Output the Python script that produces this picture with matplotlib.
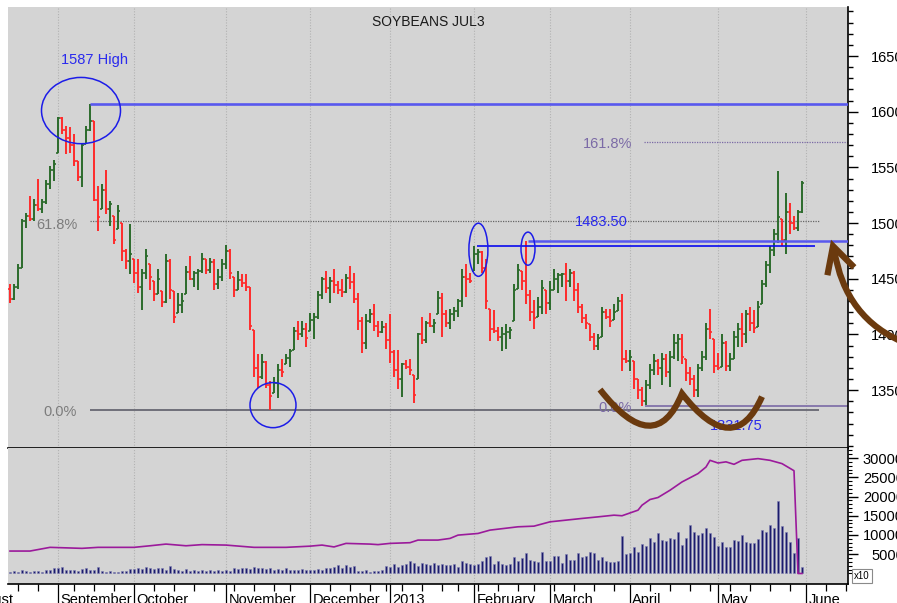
import numpy as np
import pandas as pd
import matplotlib
matplotlib.use("Agg")
import matplotlib.pyplot as plt
import matplotlib.transforms as mtransforms
from matplotlib.patches import Ellipse, PathPatch
from matplotlib.path import Path

plt.rcParams["font.family"] = ["Liberation Sans", "DejaVu Sans"]

# trading calendar (CBOT holidays in the window)
HOLIDAYS = ["2012-09-03", "2012-11-22", "2012-12-25", "2013-01-01",
            "2013-01-21", "2013-02-18", "2013-03-29", "2013-05-27"]
FIRST_BAR = "2012-08-16"
MONTH_LABELS = ["August", "September", "October", "November", "December", "2013",
                "February", "March", "April", "May", "June"]

# daily bars, Aug 16 2012 .. May 31 2013
high = [1445, 1445, 1463, 1504, 1509, 1524, 1522, 1540, 1522, 1539,
        1551, 1557, 1595, 1595, 1587, 1586, 1580, 1556, 1571, 1587,
        1607, 1592, 1533, 1535, 1548, 1520, 1506, 1516, 1500, 1477,
        1499, 1468, 1468, 1459, 1477, 1463, 1448, 1459, 1439, 1472,
        1468, 1439, 1437, 1437, 1461, 1470, 1457, 1459, 1473, 1468,
        1469, 1468, 1459, 1468, 1480, 1477, 1452, 1457, 1454, 1454,
        1443, 1404, 1382, 1382, 1376, 1358, 1362, 1373, 1378, 1382,
        1387, 1407, 1412, 1412, 1410, 1419, 1419, 1439, 1452, 1457,
        1452, 1459, 1448, 1450, 1454, 1461, 1455, 1437, 1416, 1418,
        1423, 1427, 1412, 1412, 1410, 1418, 1386, 1386, 1374, 1377,
        1378, 1364, 1401, 1416, 1412, 1419, 1414, 1439, 1437, 1422,
        1423, 1425, 1432, 1459, 1463, 1455, 1479.5, 1477, 1475, 1468,
        1423, 1422, 1407, 1407, 1409, 1407, 1445, 1463, 1457, 1483.5,
        1440, 1431, 1434, 1449, 1440, 1448, 1459, 1455, 1455, 1464,
        1459, 1457, 1446, 1427, 1418, 1409, 1401, 1400, 1425, 1423,
        1423, 1427, 1434, 1436, 1386, 1386, 1376, 1360, 1353, 1359,
        1373, 1382, 1378, 1383, 1382, 1385, 1400, 1400, 1400, 1378,
        1371, 1364, 1373, 1385, 1410, 1423, 1396, 1383, 1400, 1394,
        1383, 1403, 1410, 1419, 1422, 1425, 1422, 1430, 1449, 1466,
        1479, 1495, 1547, 1504, 1527, 1518, 1506, 1512, 1538]
low = [1428, 1431, 1441, 1460, 1496, 1502, 1502, 1511, 1509, 1517,
       1531, 1538, 1563, 1580, 1562, 1563, 1551, 1538, 1532, 1571,
       1583, 1520, 1493, 1513, 1508, 1497, 1481, 1495, 1466, 1459,
       1454, 1446, 1437, 1422, 1450, 1440, 1430, 1436, 1425, 1428,
       1432, 1410, 1419, 1419, 1436, 1449, 1443, 1440, 1455, 1454,
       1455, 1440, 1441, 1448, 1459, 1450, 1434, 1440, 1443, 1439,
       1404, 1362, 1352, 1360, 1352, 1331.75, 1347, 1343, 1362, 1373,
       1371, 1386, 1395, 1398, 1389, 1403, 1396, 1414, 1432, 1437,
       1428, 1437, 1436, 1434, 1437, 1441, 1428, 1404, 1383, 1387,
       1410, 1403, 1398, 1401, 1387, 1374, 1362, 1351, 1344, 1369,
       1364, 1338, 1360, 1391, 1392, 1407, 1401, 1418, 1398, 1407,
       1405, 1412, 1416, 1425, 1434, 1446, 1457, 1463, 1455, 1423,
       1394, 1401, 1394, 1385, 1387, 1396, 1412, 1441, 1440, 1427,
       1412, 1405, 1416, 1418, 1418, 1422, 1440, 1437, 1443, 1430,
       1443, 1430, 1419, 1410, 1405, 1394, 1386, 1386, 1398, 1414,
       1407, 1413, 1421, 1367, 1374, 1367, 1351, 1342, 1336, 1337,
       1351, 1364, 1364, 1355, 1362, 1353, 1378, 1376, 1373, 1358,
       1355, 1344, 1344, 1367, 1377, 1396, 1365, 1368, 1371, 1367,
       1367, 1378, 1389, 1389, 1392, 1403, 1401, 1407, 1427, 1443,
       1455, 1470, 1482, 1479, 1472, 1490, 1494, 1493, 1509]
close = [1432, 1443, 1460, 1502, 1506, 1504, 1516, 1513, 1519, 1535,
         1548, 1553, 1594, 1584, 1576, 1570, 1556, 1541, 1570, 1584,
         1592, 1521, 1505, 1530, 1513, 1517, 1485, 1511, 1475, 1466,
         1472, 1455, 1443, 1455, 1470, 1452, 1436, 1450, 1429, 1466,
         1440, 1416, 1426, 1430, 1456, 1450, 1455, 1457, 1468, 1458,
         1465, 1445, 1452, 1463, 1475, 1455, 1440, 1449, 1446, 1443,
         1408, 1370, 1362, 1375, 1355, 1345, 1356, 1368, 1366, 1379,
         1385, 1403, 1400, 1405, 1397, 1413, 1416, 1435, 1450, 1442,
         1448, 1444, 1440, 1438, 1451, 1447, 1432, 1412, 1392, 1412,
         1418, 1408, 1402, 1407, 1395, 1384, 1368, 1360, 1373, 1371,
         1368, 1346, 1400, 1395, 1410, 1408, 1410, 1433, 1418, 1410,
         1418, 1421, 1430, 1452, 1450, 1448, 1472, 1474, 1460, 1430,
         1405, 1403, 1398, 1400, 1402, 1404, 1440, 1458, 1448, 1435,
         1420, 1415, 1425, 1442, 1428, 1440, 1450, 1453, 1454, 1448,
         1455, 1440, 1425, 1415, 1410, 1398, 1390, 1397, 1420, 1416,
         1412, 1420, 1430, 1378, 1376, 1380, 1360, 1350, 1340, 1355,
         1368, 1376, 1370, 1378, 1366, 1380, 1392, 1396, 1380, 1365,
         1360, 1350, 1370, 1380, 1405, 1402, 1372, 1370, 1392, 1372,
         1378, 1398, 1405, 1400, 1418, 1410, 1406, 1425, 1445, 1462,
         1476, 1490, 1505, 1485, 1510, 1500, 1496, 1510, 1536]
first_open = 1441

# volume (chart units, x10)
volume = [500, 600, 400, 800, 700, 500, 600, 700, 500, 800, 900,
          1500, 1300, 1600, 900, 800, 1000, 700, 1100, 1400, 1000,
          900, 1800, 700, 500, 600, 500, 400, 600, 700, 1200,
          1100, 1300, 1200, 1600, 1400, 1100, 1300, 1500, 1000, 1900,
          1200, 1000, 700, 1100, 600, 800, 700, 900, 600, 800,
          700, 900, 600, 800, 700, 1300, 1200, 1500, 1400, 1200,
          1600, 1500, 1300, 1100, 1400, 1000, 1200, 900, 1300, 800,
          1000, 900, 1100, 800, 1000, 900, 1200, 1000, 1400, 1500,
          1700, 2100, 1400, 2200, 1800, 2000, 700, 600, 800, 500,
          700, 600, 800, 2000, 1800, 2400, 1800, 2300, 2500, 3300,
          2700, 2000, 2800, 2500, 2300, 2800, 2100, 2400, 2200,
          2200, 2400, 1700, 3300, 2600, 2400, 2200, 2400, 3300, 4200,
          4500, 2400, 3300, 2400, 2200, 2400, 4200, 3300, 3900, 5400,
          3600, 3300, 3000, 5600, 3300, 3300, 4500, 4500, 2800, 5100,
          3500, 3600, 5400, 4300, 4500, 5600, 5400, 3600, 4200, 3300,
          3000, 3000, 3300, 9800, 5100, 5400, 6800, 5600, 7600, 7200,
          9300, 8100, 10400, 8700, 8400, 9300, 8900, 10800, 7400, 9300,
          12600, 10800, 10100, 10400, 11900, 10400, 9500, 7200, 8200, 7000,
          7000, 8800, 8400, 10100, 8200, 7800, 7900, 8900, 11400, 10800,
          12600, 11700, 18900, 12300, 10800, 8100, 5400, 9300, 1800]

# open interest line, read at these bar indices
oi_idx = [0, 5, 10, 18, 22, 31, 35, 39, 44, 48, 54, 61, 69, 75, 78, 81, 84, 90,
          92, 95, 100, 102, 107, 110, 112, 117, 120, 127, 131, 135, 139, 143,
          147, 151, 153, 157, 158, 160, 162, 165, 168, 172, 174, 175, 177, 179,
          181, 183, 187, 190, 193, 196, 197, 198]
oi_val = [5830, 5830, 6790, 6530, 6790, 6790, 7200, 7640, 7200, 7500, 7380,
          6790, 6790, 7100, 7380, 6900, 7820, 7640, 7500, 7820, 8000, 8680,
          8680, 9110, 9970, 10400, 11270, 12130, 12300, 13420, 13860, 14300,
          14710, 15150, 15000, 16450, 17740, 19220, 19740, 21630, 23780, 25950,
          27660, 29400, 28700, 29000, 28360, 29400, 29840, 29400, 28540, 26700,
          0, 0]

HIGH_LINE = 1607
FIB0, FIB618 = 1331.75, 1502
FIB0_B, FIB1618_B = 1336, 1573
RES_A, RES_B = 1483.5, 1479.5

BG = "#d4d4d4"
UP = "#2b6b2b"
DOWN = "#ff2b2b"
BLUE = "#2a2aee"
BLUE_LT = "#5858ee"
GREY_TXT = "#7c7c7c"
PURPLE = "#7b6aa6"
BROWN = "#6b3a0e"
VOL_C = "#1b1b6b"
OI_C = "#9b1a9b"
XLIM = (-0.5, 209.5)

# calendar -> bar index
days = pd.bdate_range("2012-08-01", "2013-06-28")
days = days[~days.isin(pd.to_datetime(HOLIDAYS))]
offset = int(np.where(days == pd.Timestamp(FIRST_BAR))[0][0])
pos = np.arange(len(days)) - offset
month_start = pos[np.r_[True, days.month[1:] != days.month[:-1]]]
wk = days.isocalendar().week.values
week_start = pos[np.r_[True, wk[1:] != wk[:-1]]]
week_start = [w for w in week_start if w not in set(month_start)]

fig = plt.figure(figsize=(8.97, 6.03), dpi=100)
fig.patch.set_facecolor("white")
ax = fig.add_axes([8 / 897, 1 - 448 / 603, 840 / 897, 441 / 603])
axv = fig.add_axes([8 / 897, 1 - 584 / 603, 840 / 897, 136 / 603])

for a in (ax, axv):
    a.set_facecolor(BG)
    for s in ("left", "top"):
        a.spines[s].set_visible(False)
    for s in ("right", "bottom"):
        a.spines[s].set_color("black")
        a.spines[s].set_linewidth(1.2)
    for m in month_start:
        a.axvline(m, color="#b2b2b2", lw=0.8, ls=(0, (1, 1.5)), zorder=0.5)
    a.yaxis.tick_right()

# price bars
hi = np.array(high, float)
lo = np.array(low, float)
cl = np.array(close, float)
x = np.arange(len(hi))
prev = np.r_[first_open, cl[:-1]]
op = np.clip(prev, lo, hi)
cols = np.where(cl >= prev, UP, DOWN)
ax.vlines(x, lo, hi, colors=cols, lw=1.4, zorder=3)
ax.hlines(op, x - 0.45, x, colors=cols, lw=1.2, zorder=3)
ax.hlines(cl, x, x + 0.45, colors=cols, lw=1.2, zorder=3)

# levels
ax.hlines(HIGH_LINE, 20, 209.4, color=BLUE_LT, lw=1.9, zorder=4)
ax.hlines(FIB618, 20, 202.25, color="#666666", lw=0.9, ls=(0, (1, 1)), zorder=2)
ax.hlines(FIB0, 20, 202.25, color="#5e5e6a", lw=1.2, zorder=2)
ax.hlines(FIB0_B, 158.75, 209.4, color=PURPLE, lw=1.2, zorder=2)
ax.hlines(FIB1618_B, 158.5, 209.4, color=PURPLE, lw=0.9, ls=(0, (1, 1)), zorder=2)
ax.hlines(RES_A, 129.5, 209.4, color=BLUE_LT, lw=1.8, zorder=4)
ax.hlines(RES_B, 116.75, 201.25, color="#0a0aee", lw=1.2, zorder=4)

ax.text(12.75, 1642.5, "1587 High", color=BLUE, fontsize=10.5, ha="left", va="baseline")
ax.text(16.8, 1495, "61.8%", color=GREY_TXT, fontsize=10.5, ha="right", va="baseline")
ax.text(16.8, 1327, "0.0%", color=GREY_TXT, fontsize=10.5, ha="right", va="baseline")
ax.text(141.25, 1497.3, "1483.50", color=BLUE, fontsize=10.5, ha="left", va="baseline")
ax.text(155.5, 1567.3, "161.8%", color=PURPLE, fontsize=10.5, ha="right", va="baseline")
ax.text(155.5, 1330.6, "0.0%", color=PURPLE, fontsize=10.5, ha="right", va="baseline")
ax.text(175, 1314, "1331.75", color=BLUE, fontsize=10.5, ha="left", va="baseline", zorder=5)
ax.text(0.5, 0.9576, "SOYBEANS JUL3", transform=ax.transAxes, color="#1a1a1a",
        fontsize=10, ha="center", va="baseline")

# circled highs / lows
for cx, cy, w, h in [(17.75, 1601, 19.75, 59.5), (65.75, 1336.5, 11.5, 40.5),
                     (117.1, 1476, 4.75, 47.7), (129.5, 1477, 3.5, 29.7)]:
    ax.add_patch(Ellipse((cx, cy), w, h, fill=False, ec="#1c1ce8", lw=1.1,
                         zorder=6, clip_on=False))

# hand-drawn double bottom and arrow
W = Path([(147.5, 1350.5), (161.25, 1287.4), (168, 1346.8),
          (181, 1286.9), (188, 1344.1)],
         [Path.MOVETO, Path.CURVE3, Path.CURVE3, Path.CURVE3, Path.CURVE3])
ax.add_patch(PathPatch(W, fill=False, ec=BROWN, lw=4.5, capstyle="butt",
                       joinstyle="miter", zorder=10, clip_on=False))
shaft = Path([(224, 1392), (208.75, 1413.5), (206, 1476.6)],
             [Path.MOVETO, Path.CURVE3, Path.CURVE3])
ax.add_patch(PathPatch(shaft, fill=False, ec=BROWN, lw=4.5, zorder=10, clip_on=False))
ax.plot([204.5, 205.75, 210.5], [1455.9, 1479.3, 1462.2], color=BROWN, lw=4.5,
        solid_joinstyle="miter", zorder=10, clip_on=False)

# price axis
ax.set_yticks(np.arange(1350, 1651, 50))
ax.set_yticks(np.arange(1300, 1700, 10), minor=True)
ax.tick_params(axis="y", which="major", length=7, width=1, pad=33.3, labelsize=10.5)
ax.tick_params(axis="y", which="minor", length=3.5, width=1)
for t in ax.get_yticklabels():
    t.set_horizontalalignment("right")
ax.tick_params(axis="x", which="both", bottom=False, labelbottom=False)

# volume panel
axv.bar(x, volume, width=0.72, color=VOL_C, edgecolor="#8080b4", lw=0.4, zorder=3)
axv.plot(oi_idx, oi_val, color=OI_C, lw=1.2, zorder=4)
vt = list(range(5000, 30001, 5000))
axv.set_yticks(vt, labels=[str(v) for v in vt])
axv.set_yticks(np.arange(0, 32001, 1000), minor=True)
axv.tick_params(axis="y", which="major", length=7, width=1, pad=33.3, labelsize=10.5)
axv.tick_params(axis="y", which="minor", length=3, width=0.8)
for t in axv.get_yticklabels():
    t.set_horizontalalignment("right")

axv.set_xticks(month_start)
axv.set_xticks(week_start, minor=True)
axv.tick_params(axis="x", which="major", length=14.5, width=0.9, labelbottom=False)
axv.tick_params(axis="x", which="minor", length=5, width=0.9)

# limits last: set_xticks widens the view to fit all ticks
for a in (ax, axv):
    a.set_xlim(*XLIM)
ax.set_ylim(1298, 1694)
axv.set_ylim(-2730, 32600)

trans = mtransforms.blended_transform_factory(axv.transData, axv.transAxes)
for m, name in zip(month_start, MONTH_LABELS):
    axv.text(m + 0.6, -0.1434, name, transform=trans, fontsize=10.5,
             ha="left", va="baseline", clip_on=False)

fig.text(862 / 897, 1 - 576 / 603, "x10", fontsize=7, ha="center", va="center",
         bbox=dict(boxstyle="square,pad=0.25", fc="white", ec="#8a8a8a", lw=0.8))

fig.savefig("out.png", dpi=100, facecolor=fig.get_facecolor())
